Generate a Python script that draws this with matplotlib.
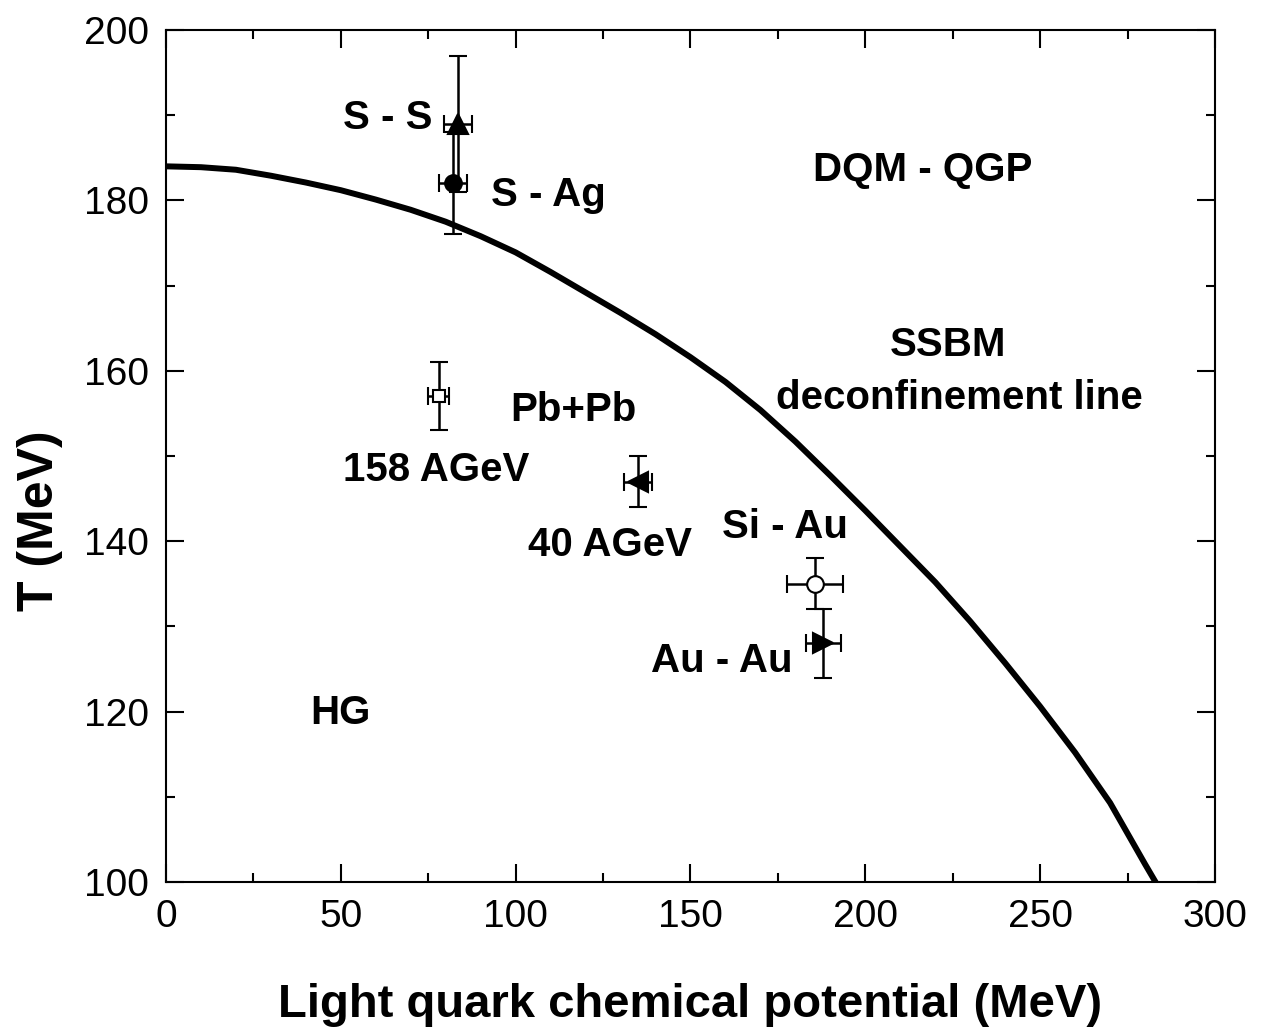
import matplotlib
matplotlib.use("Agg")
import matplotlib.pyplot as plt

plt.rcParams["font.family"] = ["Liberation Sans", "DejaVu Sans"]

# deconfinement line
mu_line = [0, 10, 20, 30, 40, 50, 60, 70, 80, 90, 100, 110, 120, 130, 140, 150,
           160, 170, 180, 190, 200, 210, 220, 230, 240, 250, 260, 270, 280, 283]
T_line = [184.0, 183.9, 183.6, 182.9, 182.1, 181.2, 180.1, 178.9, 177.5, 175.8,
          173.9, 171.6, 169.2, 166.8, 164.3, 161.6, 158.7, 155.4, 151.7, 147.7,
          143.6, 139.4, 135.2, 130.6, 125.7, 120.6, 115.2, 109.3, 102.1, 100.0]

# freeze-out points: mu, T, mu error, T error
names = ["S - S", "S - Ag", "Pb 158", "Pb 40", "Si - Au", "Au - Au"]
mu_pts = [83.5, 82, 78, 135, 185.7, 188]
T_pts = [189, 182, 157, 147, 135, 128]
mu_err = [4, 4, 3, 4, 8, 5]
T_err = [8, 6, 4, 3, 3, 4]
markers = ["^", "o", "s", "<", "o", ">"]
filled = [True, True, False, True, False, True]
msizes = [15, 12, 9, 14, 12, 14]

fig = plt.figure(figsize=(12.61, 10.35), dpi=100)
ax = fig.add_axes([0.1316, 0.1478, 0.8319, 0.8232])

ax.plot(mu_line, T_line, color="black", lw=4.3, solid_joinstyle="round", zorder=2)

for i in range(len(names)):
    ax.errorbar(mu_pts[i], T_pts[i], xerr=mu_err[i], yerr=T_err[i],
                fmt=markers[i], ms=msizes[i], mfc="black" if filled[i] else "white",
                mec="black", mew=1.5, ecolor="black", elinewidth=1.8,
                capsize=6.5, capthick=1.8, zorder=3)

ax.set_xlim(0, 300)
ax.set_ylim(100, 200)
ax.set_xticks(range(0, 301, 50))
ax.set_xticks(range(25, 300, 50), minor=True)
ax.set_yticks(range(100, 201, 20))
ax.set_yticks(range(110, 200, 20), minor=True)
ax.tick_params(which="both", direction="in", top=True, right=True, width=1.5)
ax.tick_params(which="major", length=13, labelsize=28, pad=12)
ax.tick_params(which="minor", length=6.5)
for s in ax.spines.values():
    s.set_linewidth(1.5)

ax.set_xlabel("Light quark chemical potential (MeV)", fontsize=34, fontweight="bold")
ax.set_ylabel("T (MeV)", fontsize=36, fontweight="bold")
ax.xaxis.set_label_coords(0.5, -0.118)
ax.yaxis.set_label_coords(-0.098, 0.424)

kw = dict(fontsize=29, fontweight="bold", va="center")
ax.text(76.3, 189.7, "S - S", ha="right", **kw)
ax.text(93.1, 180.6, "S - Ag", ha="left", **kw)
ax.text(216.3, 183.6, "DQM - QGP", ha="center", **kw)
ax.text(223.7, 163.0, "SSBM", ha="center", **kw)
ax.text(227.0, 156.8, "deconfinement line", ha="center", **kw)
ax.text(116.6, 155.4, "Pb+Pb", ha="center", **kw)
ax.text(77.4, 148.4, "158 AGeV", ha="center", **kw)
ax.text(127.0, 139.6, "40 AGeV", ha="center", **kw)
ax.text(177.0, 141.7, "Si - Au", ha="center", **kw)
ax.text(159.0, 126.0, "Au - Au", ha="center", **kw)
ax.text(50.0, 119.8, "HG", ha="center", **kw)

fig.savefig("out.png", dpi=100)
